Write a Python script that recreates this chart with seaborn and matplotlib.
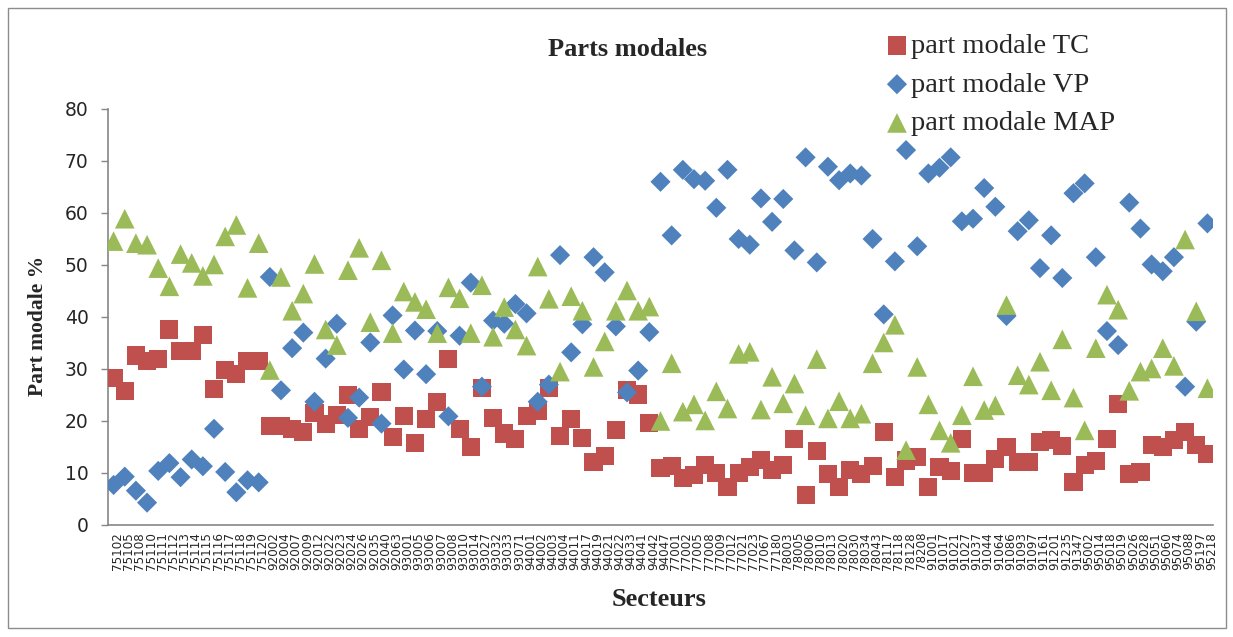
import numpy as np
import pandas as pd
import matplotlib
matplotlib.use("Agg")
import matplotlib.pyplot as plt
import matplotlib.transforms as mtransforms
from matplotlib.patches import Rectangle
import seaborn as sns

# secteurs (codes communes / IRIS) dans l'ordre du graphique
secteurs = [
    "75102", "75105", "75108", "75110", "75111", "75112", "75113", "75114", "75115", "75116",
    "75117", "75118", "75119", "75120", "92002", "92004", "92007", "92009", "92012", "92022",
    "92023", "92024", "92026", "92035", "92040", "92063", "93001", "93005", "93006", "93007",
    "93008", "93010", "93014", "93027", "93032", "93033", "93071", "94001", "94002", "94003",
    "94004", "94011", "94017", "94019", "94021", "94022", "94033", "94041", "94042", "94047",
    "77001", "77002", "77005", "77008", "77009", "77012", "77021", "77023", "77067", "77180",
    "78003", "78005", "78006", "78010", "78013", "78020", "78030", "78034", "78043", "78117",
    "78118", "78128", "78208", "91001", "91017", "91021", "91027", "91037", "91044", "91064",
    "91086", "91093", "91097", "91161", "91201", "91235", "91347", "95002", "95014", "95018",
    "95019", "95026", "95028", "95051", "95060", "95074", "95088", "95197", "95218",
]

part_tc = [
    28.3, 25.8, 32.6, 31.6, 31.9, 37.6, 33.5, 33.5, 36.6, 26.1,
    29.8, 29.0, 31.6, 31.6, 19.0, 19.0, 18.5, 17.8, 21.6, 19.5,
    21.1, 25.0, 18.5, 20.7, 25.6, 16.9, 20.9, 15.8, 20.3, 23.7,
    31.9, 18.5, 15.0, 26.4, 20.6, 17.6, 16.5, 20.9, 21.9, 26.4,
    17.2, 20.3, 16.8, 12.1, 13.3, 18.2, 25.9, 25.1, 19.7, 10.9,
    11.3, 9.0, 9.7, 11.6, 10.0, 7.3, 10.0, 11.1, 12.5, 10.5,
    11.5, 16.6, 5.7, 14.3, 9.8, 7.3, 10.5, 9.8, 11.3, 17.9,
    9.3, 12.4, 13.1, 7.3, 11.1, 10.4, 16.6, 10.0, 10.0, 12.7,
    15.0, 12.2, 12.1, 16.0, 16.3, 15.2, 8.2, 11.5, 12.3, 16.5,
    23.2, 9.8, 10.2, 15.3, 15.0, 16.3, 17.8, 15.3, 13.6,
]

part_vp = [
    7.7, 9.3, 6.6, 4.3, 10.4, 11.9, 9.2, 12.6, 11.3, 18.5,
    10.2, 6.3, 8.6, 8.2, 47.7, 25.9, 34.0, 37.0, 23.7, 32.0,
    38.7, 20.6, 24.5, 35.1, 19.5, 40.3, 29.9, 37.4, 29.0, 37.3,
    20.9, 36.4, 46.6, 26.6, 39.3, 38.7, 42.5, 40.7, 23.7, 27.0,
    51.9, 33.2, 38.6, 51.5, 48.6, 38.2, 25.5, 29.7, 37.1, 66.0,
    55.7, 68.3, 66.5, 66.2, 61.0, 68.3, 55.0, 53.9, 62.8, 58.3,
    62.7, 52.8, 70.7, 50.5, 68.9, 66.3, 67.6, 67.2, 55.0, 40.5,
    50.7, 72.1, 53.6, 67.6, 68.7, 70.7, 58.4, 58.9, 64.8, 61.2,
    40.2, 56.5, 58.6, 49.4, 55.7, 47.5, 63.8, 65.7, 51.5, 37.3,
    34.6, 62.0, 57.0, 50.1, 48.8, 51.5, 26.6, 39.1, 58.0,
]

part_map = [
    54.6, 58.9, 54.2, 53.9, 49.4, 45.9, 52.1, 50.4, 47.9, 50.1,
    55.5, 57.7, 45.6, 54.2, 29.8, 47.7, 41.2, 44.5, 50.2, 37.6,
    34.6, 49.0, 53.3, 39.0, 50.9, 36.9, 44.9, 42.9, 41.5, 36.9,
    45.7, 43.6, 36.9, 46.1, 36.2, 41.9, 37.6, 34.5, 49.7, 43.5,
    29.5, 44.0, 41.2, 30.4, 35.3, 41.2, 45.1, 41.2, 42.0, 20.0,
    31.1, 21.8, 23.2, 20.1, 25.7, 22.4, 32.9, 33.3, 22.2, 28.5,
    23.4, 27.2, 21.1, 31.9, 20.5, 23.8, 20.5, 21.4, 31.1, 35.1,
    38.5, 14.4, 30.4, 23.2, 18.2, 15.8, 21.1, 28.6, 22.1, 23.0,
    42.3, 28.8, 27.0, 31.4, 25.9, 35.7, 24.5, 18.2, 34.0, 44.3,
    41.4, 25.8, 29.5, 30.1, 34.0, 30.6, 54.9, 41.1, 26.3,
]

df = pd.DataFrame({"secteur": secteurs, "TC": part_tc, "VP": part_vp, "MAP": part_map})

sns.set_theme(style="white")
plt.rcParams["font.family"] = ["DejaVu Sans"]

W, H = 1233, 637
fig = plt.figure(figsize=(W / 100, H / 100), dpi=100)
ax = fig.add_axes([108 / W, (H - 525) / H, 1105 / W, 416 / H])

# ordre Excel : TC, puis VP, puis MAP au-dessus
sns.scatterplot(data=df, x="secteur", y="TC", marker="s", s=170, color="#C0504D",
                edgecolor="none", linewidth=0, label="part modale TC", ax=ax, zorder=3)
sns.scatterplot(data=df, x="secteur", y="VP", marker="D", s=105, color="#4F81BD",
                edgecolor="none", linewidth=0, label="part modale VP", ax=ax, zorder=4)
sns.scatterplot(data=df, x="secteur", y="MAP", marker="^", s=200, color="#9BBB59",
                edgecolor="none", linewidth=0, label="part modale MAP", ax=ax, zorder=5)

ax.set_xlim(-0.5, len(secteurs) - 0.5)
ax.set_ylim(0, 80)
ax.set_yticks(np.arange(0, 81, 10))
ax.set_xticks(np.arange(-0.5, len(secteurs), 1), minor=True)

for side in ["top", "right"]:
    ax.spines[side].set_visible(False)
for side in ["left", "bottom"]:
    ax.spines[side].set_color("#868686")
    ax.spines[side].set_linewidth(1.2)

ax.tick_params(axis="x", which="major", length=0, labelrotation=90, labelsize=8.6, pad=5)
ax.tick_params(axis="x", which="minor", length=5, width=1, color="#868686", direction="out")
ax.tick_params(axis="y", which="major", length=5, width=1, color="#868686", direction="out",
               left=True, labelsize=13.5, pad=9)

# petit décalage des étiquettes vers la droite, comme dans Excel
shift = mtransforms.ScaledTranslation(4 / 100, 0, fig.dpi_scale_trans)
for lab in ax.get_xticklabels():
    lab.set_transform(lab.get_transform() + shift)

ax.set_xlabel("")
ax.set_ylabel("")
fig.text(628 / W, 1 - 50 / H, "Parts modales", ha="center", va="center",
         family="Liberation Serif", weight="bold", fontsize=19)
fig.text(659 / W, 1 - 600 / H, "Secteurs", ha="center", va="center",
         family="Liberation Serif", weight="bold", fontsize=19)
fig.text(38 / W, 1 - 326 / H, "Part modale %", ha="center", va="center", rotation=90,
         family="Liberation Serif", weight="bold", fontsize=15.5)

ax.legend(loc="upper left", bbox_to_anchor=(886 / W, 1 - 33 / H), bbox_transform=fig.transFigure,
          frameon=False, prop={"family": "Liberation Serif", "size": 20.5},
          handlelength=0.77, handletextpad=0.1, labelspacing=0.45, borderpad=0, borderaxespad=0)

fig.add_artist(Rectangle((8 / W, (H - 628) / H), (1226 - 8) / W, (628 - 8) / H,
                         transform=fig.transFigure, fill=False, edgecolor="#8c8c8c", linewidth=1))

fig.savefig("out.png", dpi=100)
